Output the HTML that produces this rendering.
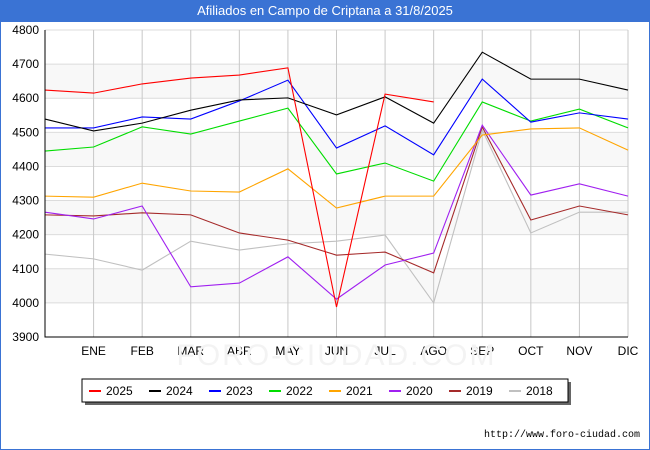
<!DOCTYPE html>
<html><head><meta charset="utf-8"><style>
body{margin:0;width:650px;height:450px;background:#fff;font-family:"Liberation Sans","DejaVu Sans",sans-serif;overflow:hidden}
#frame{position:absolute;left:0;top:0;width:648px;height:448px;border:1px solid #3a73d4}
#title{position:absolute;left:0;top:0;width:650px;height:22px;background:#3a73d4;color:#fff;font-size:13px;line-height:22px;text-align:center}
</style></head><body>
<div id="frame"></div>
<div id="title">Afiliados en Campo de Criptana a 31/8/2025</div>
<svg id="chart" width="650" height="450" style="position:absolute;left:0;top:0"></svg>
<script>
const months=["","ENE","FEB","MAR","ABR","MAY","JUN","JUL","AGO","SEP","OCT","NOV","DIC"];
const yTicks=[3900,4000,4100,4200,4300,4400,4500,4600,4700,4800];
const seriesNames=["2025","2024","2023","2022","2021","2020","2019","2018"];
const seriesColors=["#ff0000","#000000","#0000ff","#00dd00","#ffa500","#a020f0","#a52a2a","#c0c0c0"];
const s2025=[4624,4615,4642,4659,4668,4689,3988,4612,4589];
const s2024=[4539,4504,4527,4565,4595,4601,4551,4604,4527,4735,4656,4656,4624];
const s2023=[4513,4513,4545,4539,4592,4653,4454,4519,4434,4656,4530,4557,4539];
const s2022=[4445,4457,4516,4495,4533,4571,4378,4410,4357,4589,4533,4568,4513];
const s2021=[4313,4310,4351,4328,4325,4393,4278,4313,4313,4492,4510,4513,4448];
const s2020=[4266,4246,4284,4047,4058,4135,4011,4111,4146,4521,4316,4349,4313];
const s2019=[4258,4255,4264,4258,4205,4184,4140,4149,4088,4516,4243,4284,4258];
const s2018=[4143,4129,4096,4181,4155,4173,4181,4199,4000,4507,4205,4266,4266];
const allSeries=[s2025,s2024,s2023,s2022,s2021,s2020,s2019,s2018];
const L=45,R=628,T=30,B=337,ymin=3900,ymax=4800;
const X=i=>L+i*(R-L)/12;
const Y=v=>B-(v-ymin)*(B-T)/(ymax-ymin);
const svg=document.getElementById('chart');const NS="http://www.w3.org/2000/svg";
function mk(t,a){const e=document.createElementNS(NS,t);for(const k in a)e.setAttribute(k,a[k]);svg.appendChild(e);return e;}
for(let i=0;i<yTicks.length-1;i++){if(i%2==1){const r=mk('rect',{x:L,y:Y(yTicks[i+1]),width:R-L,height:Y(yTicks[i])-Y(yTicks[i+1]),fill:'#f8f8f8'});}}
yTicks.forEach(v=>{const l=mk('line',{x1:L,x2:R,y1:Y(v),y2:Y(v),stroke:'#dcdcdc'});
const t=mk('text',{x:L-6,y:Y(v)+4,'text-anchor':'end','font-size':12,fill:'#000'});t.textContent=v;});
months.forEach((m,i)=>{if(i>0){const l=mk('line',{x1:X(i),x2:X(i),y1:T,y2:B,stroke:'#c8c8c8'});}
const t=mk('text',{x:X(i),y:B+18,'text-anchor':'middle','font-size':12,fill:'#000'});t.textContent=m;});
const wm=mk('text',{x:(L+R)/2,y:365,'text-anchor':'middle','font-size':30,fill:'#f3f3f3','letter-spacing':'2'});wm.textContent="FORO-CIUDAD.COM";
for(let s=allSeries.length-1;s>=0;s--){const p=mk('polyline',{points:allSeries[s].map((v,i)=>X(i)+','+Y(v)).join(' '),fill:'none',stroke:seriesColors[s],'stroke-width':1.1});}
const ax=mk('path',{d:`M${L},${T}V${B}H${R}`,fill:'none',stroke:'#000'});
const sh=mk('rect',{x:85,y:382,width:486,height:23,fill:'#666'});
const lb=mk('rect',{x:82,y:379,width:486,height:23,fill:'#fff',stroke:'#000'});
seriesNames.forEach((n,i)=>{const x0=89+i*60;const l=mk('line',{x1:x0,x2:x0+12,y1:391,y2:391,stroke:seriesColors[i],'stroke-width':2});
const t=mk('text',{x:x0+17,y:395,'font-size':12,fill:'#000'});t.textContent=n;});
const u=mk('text',{x:640,y:437,'text-anchor':'end','font-size':10,fill:'#000','font-family':'Liberation Mono, monospace'});u.textContent="http://www.foro-ciudad.com";
</script>
</body></html>
